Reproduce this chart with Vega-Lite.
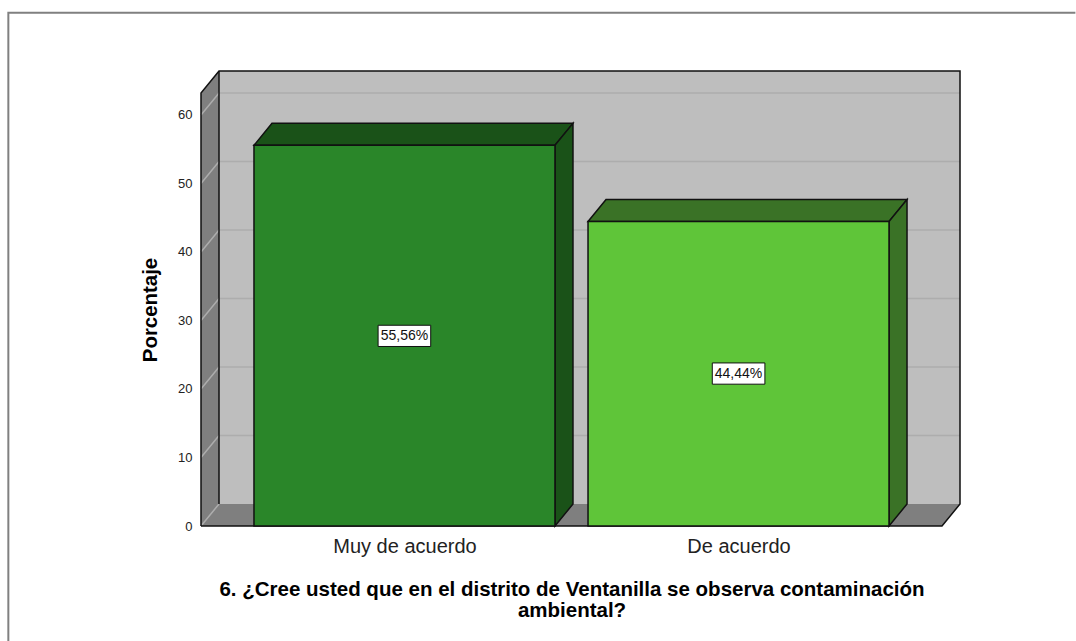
{
"$schema":"https://vega.github.io/schema/vega-lite/v6.json",
"width":741,"height":433,
"autosize":{"type":"none"},
"padding":{"left":201,"top":93,"right":134,"bottom":115},
"background":"white",
"view":{"stroke":null},
"config":{"font":"Liberation Sans"},
"resolve":{"scale":{"fill":"independent"}},
"datasets":{
"bars":[{"cat":"Muy de acuerdo","pct":55.56,"x0":7.15,"x1":47.77,"mid":27.46,"label":"55,56%","half":27.78},{"cat":"De acuerdo","pct":44.44,"x0":52.23,"x1":92.85,"mid":72.54,"label":"44,44%","half":22.22}],
"boxes":[{"label":"55,56%","l":23.9,"r":31.0,"b":26.2,"t":29.3},{"label":"44,44%","l":69.0,"r":76.1,"b":20.7,"t":23.8}],
"walls":[
{"face":"back","x":2.43,"y":3.21,"y2":66.41},{"face":"back","x":102.43,"y":3.21,"y2":66.41},
{"face":"left","x":0,"y":0,"y2":63.2},{"face":"left","x":2.43,"y":3.21,"y2":66.41},
{"face":"floor","x":0,"y":0,"y2":0},{"face":"floor","x":2.43,"y":0,"y2":3.21},{"face":"floor","x":100,"y":0,"y2":3.21},{"face":"floor","x":102.43,"y":3.21,"y2":3.21}
],
"edges":[
{"e":"outer","x":0,"y":0,"o":1},{"e":"outer","x":0,"y":63.2,"o":2},{"e":"outer","x":2.43,"y":66.41,"o":3},{"e":"outer","x":102.43,"y":66.41,"o":4},{"e":"outer","x":102.43,"y":3.21,"o":5},{"e":"outer","x":100,"y":0,"o":6},{"e":"outer","x":0,"y":0,"o":7},
{"e":"corner","x":2.43,"y":3.21,"o":1},{"e":"corner","x":2.43,"y":66.41,"o":2}
],
"grid":[
{"v":0,"x":0,"y":0},{"v":0,"x":2.43,"y":3.21},
{"v":10,"x":0,"y":10},{"v":10,"x":2.43,"y":13.21},{"v":10,"x":102.43,"y":13.21},
{"v":20,"x":0,"y":20},{"v":20,"x":2.43,"y":23.21},{"v":20,"x":102.43,"y":23.21},
{"v":30,"x":0,"y":30},{"v":30,"x":2.43,"y":33.21},{"v":30,"x":102.43,"y":33.21},
{"v":40,"x":0,"y":40},{"v":40,"x":2.43,"y":43.21},{"v":40,"x":102.43,"y":43.21},
{"v":50,"x":0,"y":50},{"v":50,"x":2.43,"y":53.21},{"v":50,"x":102.43,"y":53.21},
{"v":60,"x":0,"y":60},{"v":60,"x":2.43,"y":63.21},{"v":60,"x":102.43,"y":63.21}
],
"faces":[
{"face":"top1","x":7.15,"y":55.56,"y2":55.56},{"face":"top1","x":9.58,"y":58.77,"y2":55.56},{"face":"top1","x":47.77,"y":58.77,"y2":55.56},{"face":"top1","x":50.2,"y":58.77,"y2":58.77},
{"face":"side1","x":47.77,"y":0,"y2":55.56},{"face":"side1","x":50.2,"y":3.21,"y2":58.77},
{"face":"top2","x":52.23,"y":44.44,"y2":44.44},{"face":"top2","x":54.66,"y":47.65,"y2":44.44},{"face":"top2","x":92.85,"y":47.65,"y2":44.44},{"face":"top2","x":95.28,"y":47.65,"y2":47.65},
{"face":"side2","x":92.85,"y":0,"y2":44.44},{"face":"side2","x":95.28,"y":3.21,"y2":47.65}
],
"frame":[{"x":-26,"y":-20,"o":1},{"x":-26,"y":74.9,"o":2},{"x":118,"y":74.9,"o":3}]
},
"layer":[
{"data":{"name":"frame"},"mark":{"type":"line","color":"#808080","strokeWidth":2,"clip":false},
 "encoding":{"x":{"field":"x","type":"quantitative","scale":{"domain":[0,100],"nice":false,"zero":false},
   "axis":{"values":[27.46,72.54],"labelExpr":"datum.value<50?'Muy de acuerdo':'De acuerdo'","grid":false,"ticks":false,"domain":false,"labelFontSize":20,"labelColor":"#222222","labelPadding":10,"labelFlush":false,"labelOverlap":false,
    "title":["6. ¿Cree usted que en el distrito de Ventanilla se observa contaminación","ambiental?"],"titleFontSize":20.5,"titleFontWeight":"bold","titleColor":"#000000","titleLineHeight":21,"titleY":69,"titleBaseline":"alphabetic"}},
  "y":{"field":"y","type":"quantitative","scale":{"domain":[0,63.2],"nice":false,"zero":false},
   "axis":{"values":[0,10,20,30,40,50,60],"grid":false,"ticks":false,"domain":false,"labelFontSize":13,"labelColor":"#222222","labelPadding":9,"title":"Porcentaje","titleFontSize":20.4,"titleFontWeight":"bold","titleColor":"#000000","titleX":-51,"titleBaseline":"middle"}},
  "order":{"field":"o","type":"quantitative"}}},
{"data":{"name":"walls"},"mark":{"type":"area","clip":false},
 "encoding":{"x":{"field":"x","type":"quantitative"},"y":{"field":"y","type":"quantitative"},"y2":{"field":"y2"},"detail":{"field":"face"},
  "fill":{"field":"face","type":"nominal","legend":null,"scale":{"domain":["back","left","floor"],"range":["#bebebe","#7f7f7f","#7f7f7f"]}}}},
{"data":{"name":"grid"},"mark":{"type":"line","color":"#adadad","strokeWidth":1.5,"clip":false},
 "encoding":{"x":{"field":"x","type":"quantitative"},"y":{"field":"y","type":"quantitative"},"detail":{"field":"v"}}},
{"data":{"name":"edges"},"mark":{"type":"line","color":"#111111","strokeWidth":1.5,"clip":false},
 "encoding":{"x":{"field":"x","type":"quantitative"},"y":{"field":"y","type":"quantitative"},"detail":{"field":"e"},"order":{"field":"o","type":"quantitative"}}},
{"data":{"name":"faces"},"mark":{"type":"area","stroke":"#111111","strokeWidth":1.5,"clip":false},
 "encoding":{"x":{"field":"x","type":"quantitative"},"y":{"field":"y","type":"quantitative"},"y2":{"field":"y2"},
  "detail":{"field":"face"},
  "fill":{"field":"face","type":"nominal","legend":null,"scale":{"domain":["top1","side1","top2","side2"],"range":["#1a5218","#1a5218","#3a7226","#3a7226"]}}}},
{"data":{"name":"bars"},"mark":{"type":"rect","stroke":"#111111","strokeWidth":1.5},
 "encoding":{"x":{"field":"x0","type":"quantitative"},"x2":{"field":"x1"},"y":{"field":"pct","type":"quantitative"},"y2":{"datum":0},
  "fill":{"field":"cat","type":"nominal","legend":null,"scale":{"domain":["Muy de acuerdo","De acuerdo"],"range":["#2a8629","#5fc539"]}}}},
{"data":{"name":"boxes"},"mark":{"type":"rect","fill":"white","stroke":"#111111","strokeWidth":1},
 "encoding":{"x":{"field":"l","type":"quantitative"},"x2":{"field":"r"},"y":{"field":"b","type":"quantitative"},"y2":{"field":"t"}}},
{"data":{"name":"bars"},"mark":{"type":"text","fontSize":14,"color":"#111111"},
 "encoding":{"x":{"field":"mid","type":"quantitative"},"y":{"field":"half","type":"quantitative"},"text":{"field":"label"}}}
]
}
